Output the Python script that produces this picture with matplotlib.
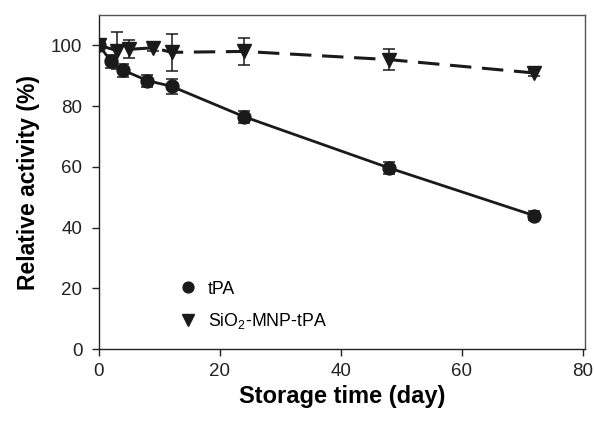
import matplotlib
matplotlib.use("Agg")
import matplotlib.pyplot as plt
from matplotlib.lines import Line2D

plt.rcParams['font.family'] = ['Liberation Sans', 'DejaVu Sans']
plt.rcParams['mathtext.fontset'] = 'custom'
plt.rcParams['mathtext.rm'] = 'Liberation Sans'

days_tpa = [0, 2, 4, 8, 12, 24, 48, 72]
act_tpa = [100, 94.7, 91.8, 88.4, 86.5, 76.5, 59.6, 43.9]
err_tpa = [1.5, 2.0, 2.2, 2.0, 2.5, 2.0, 2.0, 1.5]

days_sio = [0, 3, 5, 9, 12, 24, 48, 72]
act_sio = [100, 98.3, 98.7, 99.2, 97.7, 98.0, 95.3, 90.9]
err_sio = [1.0, 6.2, 3.0, 1.0, 6.2, 4.5, 3.5, 1.0]

xticks = [0, 20, 40, 60, 80]
yticks = [0, 20, 40, 60, 80, 100]

fig = plt.figure(figsize=(5.94, 4.22), dpi=100)
ax = fig.add_axes([99/594, 73/422, 486/594, 334/422])

ax.errorbar(days_tpa, act_tpa, yerr=err_tpa, color='#1a1a1a', marker='o', ms=9.3,
            lw=2, elinewidth=1.1, capsize=4.5, capthick=1.1, ls='-', label='tPA', zorder=3)
ax.errorbar(days_sio, act_sio, yerr=err_sio, color='#1a1a1a', marker='v', ms=9.5,
            lw=2.2, elinewidth=1.1, capsize=4.5, capthick=1.1, ls=(0, (7, 3.5)),
            label=r'SiO$\mathregular{_2}$-MNP-tPA', zorder=3)

ax.set_xlim(0, 80.35)
ax.set_ylim(0, 110)
ax.set_xticks(xticks)
ax.set_yticks(yticks)
ax.tick_params(direction='out', length=5, width=1, labelsize=13.5, colors='#222222', pad=5)
ax.tick_params(axis='y', pad=7)
for s in ['top', 'right']:
    ax.spines[s].set_color('#555555')
for s in ['left', 'bottom']:
    ax.spines[s].set_color('#222222')
for s in ax.spines.values():
    s.set_linewidth(1)

ax.set_xlabel('Storage time (day)', fontsize=17, fontweight='bold', labelpad=4)
ax.set_ylabel('Relative activity (%)', fontsize=16.5, fontweight='bold', labelpad=8)

handles, labels = ax.get_legend_handles_labels()
h = [Line2D([], [], color='#1a1a1a', marker='o', ms=7.8, ls='none'),
     Line2D([], [], color='#1a1a1a', marker='v', ms=8.5, ls='none')]
ax.legend(h, labels, loc='lower left', bbox_to_anchor=(0.122, 0.006), frameon=False,
          fontsize=12.8, handletextpad=0.4, labelspacing=0.75, handlelength=1.5)

fig.savefig('out.png', dpi=100)
